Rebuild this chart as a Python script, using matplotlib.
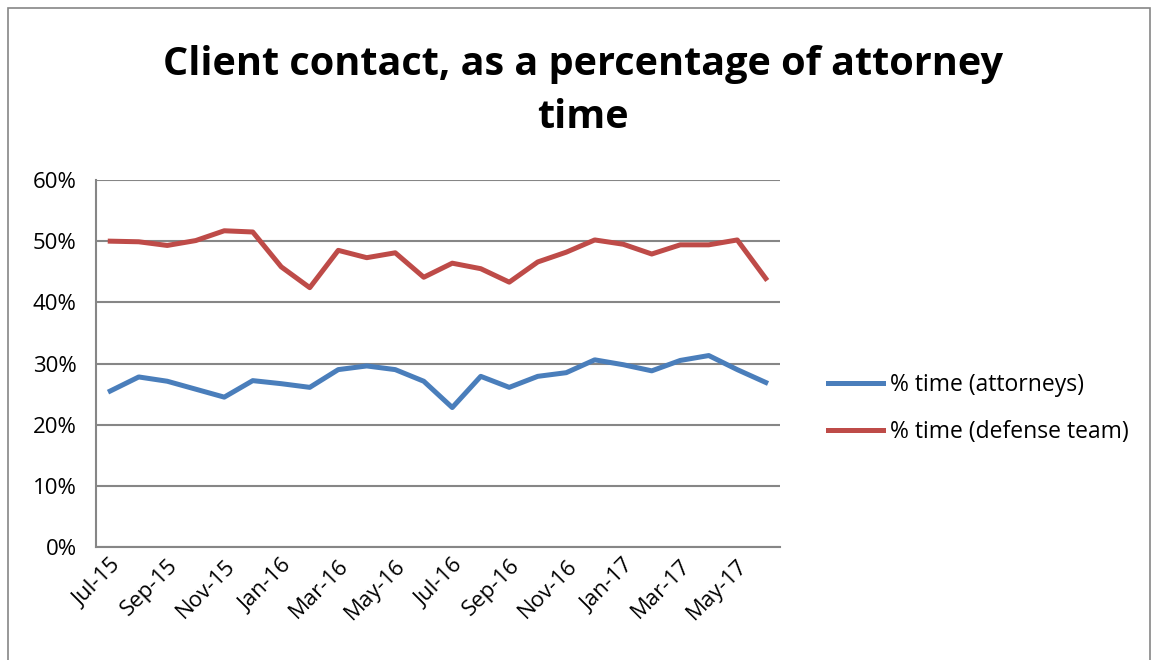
import matplotlib.pyplot as plt
from matplotlib.patches import Rectangle

months = ['Jul-15', 'Aug-15', 'Sep-15', 'Oct-15', 'Nov-15', 'Dec-15',
          'Jan-16', 'Feb-16', 'Mar-16', 'Apr-16', 'May-16', 'Jun-16',
          'Jul-16', 'Aug-16', 'Sep-16', 'Oct-16', 'Nov-16', 'Dec-16',
          'Jan-17', 'Feb-17', 'Mar-17', 'Apr-17', 'May-17', 'Jun-17']
attorneys = [25.5, 27.8, 27.1, 25.8, 24.5, 27.2, 26.7, 26.1, 29.0, 29.6, 29.0, 27.1,
             22.8, 27.9, 26.1, 27.9, 28.5, 30.6, 29.8, 28.8, 30.5, 31.3, 29.0, 26.9]
defense = [50.0, 49.9, 49.3, 50.1, 51.7, 51.5, 45.8, 42.4, 48.5, 47.3, 48.1, 44.1,
           46.4, 45.5, 43.3, 46.6, 48.2, 50.2, 49.5, 47.9, 49.4, 49.4, 50.2, 43.9]

plt.rcParams['font.family'] = ['Open Sans', 'DejaVu Sans']

fig = plt.figure(figsize=(11.59, 6.6), dpi=100)
W, H = 1159, 660
ax = fig.add_axes([96 / W, 1 - 547 / H, (780 - 96) / W, (547 - 180) / H])

x = range(len(months))
ax.plot(x, attorneys, color='#4A7EBB', lw=3.6, label='% time (attorneys)')
ax.plot(x, defense, color='#BE4B48', lw=3.6, label='% time (defense team)')

ax.set_xlim(-0.5, len(months) - 0.5)
ax.set_ylim(0, 60)
ax.set_yticks(range(0, 61, 10))
ax.set_yticklabels([f'{v}%' for v in range(0, 61, 10)], fontsize=16)
ax.set_xticks(list(x)[::2])
ax.set_xticklabels(months[::2], rotation=45, ha='right', rotation_mode='anchor', fontsize=16)
ax.tick_params(axis='y', length=0, pad=14)
ax.tick_params(axis='x', length=0, pad=6)
ax.grid(axis='y', color='#868686', lw=1.5)
ax.set_axisbelow(True)
for s in ['top', 'right']:
    ax.spines[s].set_visible(False)
for s in ['left', 'bottom']:
    ax.spines[s].set_color('#868686')
    ax.spines[s].set_linewidth(1.5)

fig.text(583 / W, 1 - 91 / H, 'Client contact, as a percentage of attorney\ntime',
         ha='center', va='center', fontsize=28.5, fontweight='bold', linespacing=1.48)

fig.legend(loc='upper left', bbox_to_anchor=(807 / W, 1 - 352 / H), frameon=False,
           fontsize=16.5, handlelength=2.4, handletextpad=0.3, labelspacing=1.0)

fig.patches.append(Rectangle((8 / W, -0.1), (1150 - 8) / W, 1.1 - 8 / H,
                             transform=fig.transFigure, fill=False,
                             edgecolor='#868686', lw=1.2))

fig.savefig('out.png', dpi=100)
